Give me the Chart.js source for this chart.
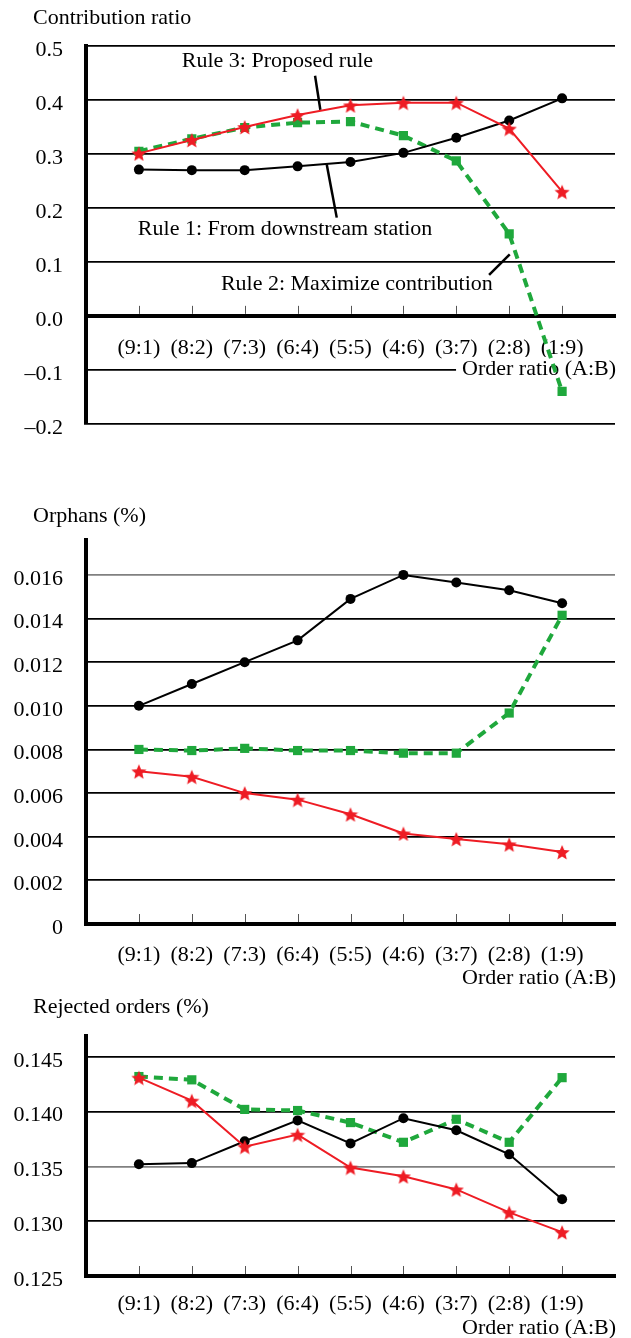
<!DOCTYPE html>
<html>
<head>
<meta charset="utf-8">
<script src="https://cdn.jsdelivr.net/npm/chart.js@4.4.0/dist/chart.umd.min.js"></script>
<style>
  html, body { margin: 0; padding: 0; background: #fff; }
  #wrap { position: relative; width: 631px; height: 1338px; }
  canvas { position: absolute; left: 0; }
</style>
</head>
<body>
<div id="wrap">
  <canvas id="contrib" width="631" height="460" style="top:0"></canvas>
  <canvas id="orphans" width="631" height="510" style="top:480px"></canvas>
  <canvas id="rejected" width="631" height="348" style="top:990px"></canvas>
</div>
<script>
// order ratio categories (A:B)
const categories = ['(9:1)', '(8:2)', '(7:3)', '(6:4)', '(5:5)', '(4:6)', '(3:7)', '(2:8)', '(1:9)'];

// contribution ratio
const contribRule1 = [0.271, 0.270, 0.270, 0.277, 0.285, 0.302, 0.330, 0.362, 0.403];
const contribRule2 = [0.305, 0.328, 0.349, 0.358, 0.360, 0.334, 0.287, 0.152, -0.140];
const contribRule3 = [0.301, 0.326, 0.350, 0.372, 0.390, 0.395, 0.395, 0.347, 0.230];
const contribTicks = [-0.2, -0.1, 0, 0.1, 0.2, 0.3, 0.4, 0.5];

// orphans (%)
const orphansRule1 = [0.0100, 0.0110, 0.0120, 0.0130, 0.0149, 0.0160, 0.01565, 0.0153, 0.0147];
const orphansRule2 = [0.0080, 0.00795, 0.00805, 0.00795, 0.00795, 0.00783, 0.00783, 0.00967, 0.01415];
const orphansRule3 = [0.0070, 0.00675, 0.0060, 0.0057, 0.00503, 0.00415, 0.0039, 0.00365, 0.0033];
const orphansTicks = [0, 0.002, 0.004, 0.006, 0.008, 0.010, 0.012, 0.014, 0.016];

// rejected orders (%)
const rejectedRule1 = [0.1352, 0.1353, 0.1373, 0.1392, 0.1371, 0.1394, 0.1383, 0.1361, 0.1320];
const rejectedRule2 = [0.1432, 0.1429, 0.1402, 0.1401, 0.1390, 0.1372, 0.1393, 0.1372, 0.1431];
const rejectedRule3 = [0.1431, 0.1410, 0.1368, 0.1379, 0.1349, 0.1341, 0.1329, 0.1308, 0.1290];
const rejectedTicks = [0.125, 0.130, 0.135, 0.140, 0.145];

const FONT = "'Liberation Serif', 'Times New Roman', serif";
const RED = '#ee1c24';
const GREEN = '#1fa83c';
const INK = '#000';

// filled star marker (Chart.js 'star' is only stroked)
function starImage(size, color) {
  const c = document.createElement('canvas');
  c.width = size; c.height = size;
  const g = c.getContext('2d');
  const r = size / 2, ri = r * 0.45;
  g.beginPath();
  for (let k = 0; k < 10; k++) {
    const rad = k % 2 ? ri : r;
    const a = -Math.PI / 2 + k * Math.PI / 5;
    g.lineTo(r + rad * Math.cos(a), r + 1 + rad * Math.sin(a));
  }
  g.closePath();
  g.fillStyle = color;
  g.fill();
  return c;
}
const star = starImage(16, RED);

const toPoints = values => values.map((v, i) => ({ x: i, y: v }));

function makeDatasets(r1, r2, r3) {
  return [
    { label: 'Rule 3: Proposed rule', data: toPoints(r3), borderColor: RED, borderWidth: 2,
      pointStyle: star, pointRadius: 7 },
    { label: 'Rule 1: From downstream station', data: toPoints(r1), borderColor: INK, borderWidth: 2,
      pointStyle: 'circle', pointRadius: 5, pointBackgroundColor: INK, pointBorderWidth: 0 },
    { label: 'Rule 2: Maximize contribution', data: toPoints(r2), borderColor: GREEN, borderWidth: 4,
      borderDash: [9, 6], pointStyle: 'rect', pointRadius: 6.5, pointBackgroundColor: GREEN, pointBorderWidth: 0 }
  ];
}

function decor(cfg) {
  return {
    id: 'decor',
    beforeDatasetsDraw(chart) {
      const { ctx, scales: { x, y }, chartArea } = chart;
      const axisY = y.getPixelForValue(cfg.axisValue);
      ctx.save();
      // small tick marks pointing up from the category axis
      ctx.strokeStyle = '#555';
      ctx.lineWidth = 1;
      categories.forEach((c, i) => {
        const px = Math.round(x.getPixelForValue(i)) + 0.5;
        ctx.beginPath();
        ctx.moveTo(px, axisY - 2);
        ctx.lineTo(px, axisY - 10);
        ctx.stroke();
      });
      // axis name with white backing
      ctx.font = '22px ' + FONT;
      ctx.textBaseline = 'middle';
      ctx.textAlign = 'right';
      const label = 'Order ratio (A:B)';
      const w = ctx.measureText(label).width;
      const ly = axisY + cfg.axisNameGap;
      ctx.fillStyle = '#fff';
      ctx.fillRect(chartArea.right + 1 - w - 6, ly - 12, w + 20, 24);
      ctx.fillStyle = INK;
      ctx.fillText(label, chartArea.right + 1, ly);
      // chart title
      ctx.textAlign = 'left';
      ctx.textBaseline = 'alphabetic';
      ctx.fillText(cfg.title, 33, cfg.titleY);
      ctx.restore();
    },
    afterDatasetsDraw(chart) {
      if (!cfg.notes) return;
      const { ctx, scales: { x, y } } = chart;
      ctx.save();
      ctx.font = '22px ' + FONT;
      ctx.fillStyle = INK;
      ctx.textAlign = 'left';
      ctx.textBaseline = 'middle';
      ctx.strokeStyle = INK;
      ctx.lineWidth = 2.5;
      cfg.notes.forEach(n => {
        ctx.fillText(n.text, x.getPixelForValue(n.at[0]), y.getPixelForValue(n.at[1]));
        ctx.beginPath();
        ctx.moveTo(x.getPixelForValue(n.line[0][0]), y.getPixelForValue(n.line[0][1]));
        ctx.lineTo(x.getPixelForValue(n.line[1][0]), y.getPixelForValue(n.line[1][1]));
        ctx.stroke();
      });
      ctx.restore();
    }
  };
}

function buildChart(id, opt) {
  const font = { family: FONT, size: 22 };
  return new Chart(document.getElementById(id), {
    type: 'line',
    data: { datasets: makeDatasets(opt.r1, opt.r2, opt.r3) },
    options: {
      responsive: false,
      animation: false,
      events: [],
      layout: { padding: opt.padding },
      elements: { line: { tension: 0, fill: false } },
      plugins: { legend: { display: false }, title: { display: false }, tooltip: { enabled: false } },
      scales: {
        x: {
          type: 'linear',
          min: -1,
          max: 9,
          // the category axis sits on a y value (0 for the contribution chart)
          position: { y: opt.decor.axisValue },
          afterFit: s => { s.height = 0; },
          afterBuildTicks: s => { s.ticks = categories.map((c, i) => ({ value: i })); },
          ticks: { callback: v => categories[v], font, color: INK, padding: opt.xPad,
                   maxRotation: 0, autoSkip: false },
          grid: { display: false, drawTicks: false },
          border: { display: true, width: 4, color: INK }
        },
        y: {
          min: opt.min,
          max: opt.max,
          afterFit: s => { s.width = 86; },
          afterBuildTicks: s => { s.ticks = opt.ticks.map(v => ({ value: v })); },
          ticks: { callback: opt.fmt, font, color: INK, padding: 23, labelOffset: 4, autoSkip: false },
          grid: {
            drawTicks: false,
            lineWidth: 1.8,
            color: c => (opt.gray.includes(c.tick && c.tick.value) ? '#808080' : INK)
          },
          border: { width: 4, color: INK }
        }
      }
    },
    plugins: [decor(opt.decor)]
  });
}

buildChart('contrib', {
  r1: contribRule1, r2: contribRule2, r3: contribRule3,
  min: -0.2, max: 0.5, ticks: contribTicks, gray: [],
  fmt: v => (v < 0 ? '\u2013' : '') + Math.abs(v).toFixed(1),
  padding: { top: 46, bottom: 30, left: 0, right: 16 },
  xPad: 19,
  decor: {
    title: 'Contribution ratio', titleY: 24, axisValue: 0, axisNameGap: 53,
    notes: [
      { text: 'Rule 3: Proposed rule', at: [0.81, 0.471], line: [[3.33, 0.445], [3.43, 0.382]] },
      { text: 'Rule 1: From downstream station', at: [-0.02, 0.160], line: [[3.55, 0.281], [3.74, 0.182]] },
      { text: 'Rule 2: Maximize contribution', at: [1.55, 0.0595], line: [[6.62, 0.076], [7.01, 0.114]] }
    ]
  }
});

buildChart('orphans', {
  r1: orphansRule1, r2: orphansRule2, r3: orphansRule3,
  min: 0, max: 0.0176, ticks: orphansTicks, gray: [0.016],
  fmt: v => (v === 0 ? '0' : v.toFixed(3)),
  padding: { top: 60, bottom: 66, left: 0, right: 16 },
  xPad: 18,
  decor: { title: 'Orphans (%)', titleY: 42, axisValue: 0, axisNameGap: 54 }
});

buildChart('rejected', {
  r1: rejectedRule1, r2: rejectedRule2, r3: rejectedRule3,
  min: 0.125, max: 0.1469, ticks: rejectedTicks, gray: [0.135],
  fmt: v => v.toFixed(3),
  padding: { top: 46, bottom: 62, left: 0, right: 16 },
  xPad: 15,
  decor: { title: 'Rejected orders (%)', titleY: 23, axisValue: 0.125, axisNameGap: 52 }
});
</script>
</body>
</html>
